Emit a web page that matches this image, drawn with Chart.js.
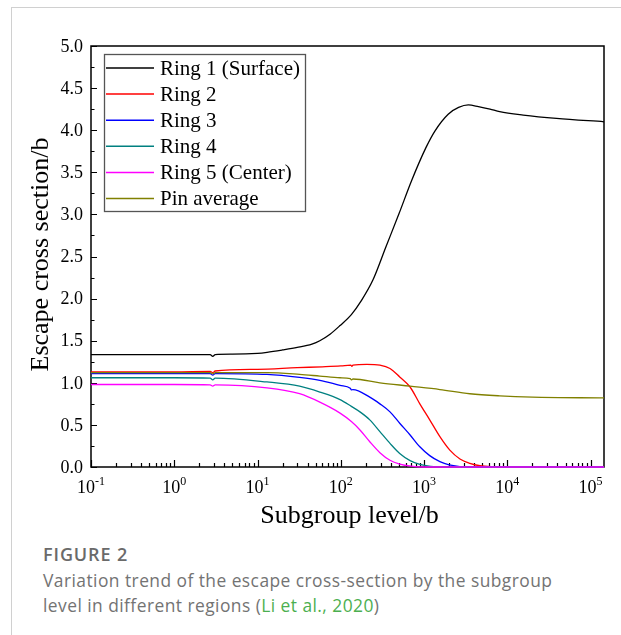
<!DOCTYPE html>
<html>
<head>
<meta charset="utf-8">
<script src="https://cdn.jsdelivr.net/npm/chart.js@4.4.1/dist/chart.umd.min.js"></script>
<style>
  html, body { margin: 0; padding: 0; background: #fff; }
  #pagina { position: relative; width: 621px; height: 635px; overflow: hidden; }
  #marco { position: absolute; left: 11px; top: 7px; right: 0; bottom: 0;
           border-top: 1px solid #d0d0d0; border-left: 1px solid #d0d0d0; }
  #lienzo { position: absolute; left: 0; top: 0; }
  #pie { position: absolute; left: 43px; top: 542px; width: 575px; white-space: nowrap;
         font-family: "Open Sans", "Lato", sans-serif; color: #737373; }
  #pie .num { font-weight: 600; font-size: 18px; color: #6a6a6a; letter-spacing: 0.9px; }
  #pie .txt { font-size: 17.4px; line-height: 25px; margin-top: 2px; font-weight: 400; letter-spacing: 0.45px; }
  #pie .ref { color: #4caf50; }
</style>
</head>
<body>
<div id="pagina">
  <div id="marco"></div>
  <canvas id="lienzo" width="621" height="530"></canvas>
  <div id="pie">
    <div class="num">FIGURE 2</div>
    <div class="txt">Variation trend of the escape cross-section by the subgroup<br>level in different regions (<span class="ref">Li et al., 2020</span>)</div>
  </div>
</div>
<script>
// Series (subgroup level in b, escape cross section in b)
const ring1X = [0.1, 1, 2.7, 2.9, 3.1, 5, 10, 13, 20, 30, 45, 56, 75, 98, 134, 175, 243, 347, 501, 708, 1050, 1350, 1950, 2600, 3400, 4500, 6200, 8100, 15500, 39000, 145000];
const ring1Y = [1.335, 1.335, 1.335, 1.315, 1.335, 1.34, 1.35, 1.362, 1.39, 1.42, 1.46, 1.50, 1.58, 1.68, 1.81, 1.97, 2.22, 2.61, 3.01, 3.40, 3.79, 3.99, 4.19, 4.27, 4.30, 4.28, 4.25, 4.22, 4.18, 4.14, 4.10];

const ring2X = [0.1, 1, 2.7, 2.9, 3.1, 10, 30, 60, 100, 132, 136, 140, 205, 295, 390, 510, 680, 890, 1170, 1550, 2040, 2700, 3550, 4700, 6500, 10000, 145000];
const ring2Y = [1.13, 1.13, 1.135, 1.12, 1.14, 1.16, 1.18, 1.19, 1.20, 1.21, 1.195, 1.21, 1.22, 1.21, 1.17, 1.07, 0.95, 0.75, 0.56, 0.36, 0.20, 0.095, 0.044, 0.015, 0.003, 0, 0];

const ring3X = [0.1, 1, 2.7, 2.9, 3.1, 13, 32, 56, 98, 130, 134, 140, 223, 295, 390, 510, 680, 890, 1170, 1550, 2000, 2700, 3500, 145000];
const ring3Y = [1.11, 1.11, 1.11, 1.09, 1.11, 1.10, 1.065, 1.03, 0.97, 0.935, 0.915, 0.92, 0.83, 0.75, 0.655, 0.52, 0.38, 0.24, 0.135, 0.063, 0.024, 0.005, 0, 0];

const ring4X = [0.1, 1, 2.7, 2.9, 3.1, 13, 32, 56, 98, 134, 170, 223, 295, 390, 510, 680, 890, 1200, 1700, 145000];
const ring4Y = [1.06, 1.06, 1.055, 1.035, 1.055, 1.01, 0.96, 0.89, 0.80, 0.72, 0.655, 0.56, 0.42, 0.28, 0.16, 0.075, 0.03, 0.008, 0, 0];

const ring5X = [0.1, 1, 2.7, 2.9, 3.1, 13, 32, 56, 98, 134, 170, 223, 295, 390, 510, 700, 1000, 145000];
const ring5Y = [0.98, 0.98, 0.975, 0.96, 0.975, 0.94, 0.87, 0.77, 0.64, 0.54, 0.44, 0.30, 0.17, 0.08, 0.035, 0.01, 0, 0];

const pinX = [0.1, 1, 2.7, 2.9, 3.1, 13, 32, 56, 98, 130, 134, 140, 295, 680, 1550, 3550, 8100, 20000, 145000];
const pinY = [1.12, 1.12, 1.12, 1.105, 1.12, 1.12, 1.10, 1.08, 1.06, 1.05, 1.035, 1.045, 1.00, 0.96, 0.92, 0.87, 0.845, 0.83, 0.82];

const nombres = ["Ring 1 (Surface)", "Ring 2", "Ring 3", "Ring 4", "Ring 5 (Center)", "Pin average"];
const colores = ["#000000", "#ff0000", "#0000ff", "#008080", "#ff00ff", "#808000"];

const ejeYMarcas = [0, 0.5, 1, 1.5, 2, 2.5, 3, 3.5, 4, 4.5, 5];
const ejeXDecadas = [-1, 0, 1, 2, 3, 4, 5];

const FUENTE = '"Liberation Serif", "Times New Roman", serif';

function puntos(xs, ys) {
    return xs.map((x, i) => ({ x: x, y: ys[i] }));
}

const series = [
    puntos(ring1X, ring1Y), puntos(ring2X, ring2Y), puntos(ring3X, ring3Y),
    puntos(ring4X, ring4Y), puntos(ring5X, ring5Y), puntos(pinX, pinY)
];

// Ejes, marcas hacia dentro y rótulos
const pluginEjes = {
    id: 'ejes',
    beforeDatasetsDraw(chart) {
        const ctx = chart.ctx, a = chart.chartArea;
        const sx = chart.scales.x, sy = chart.scales.y;
        ctx.save();
        ctx.strokeStyle = '#000';
        ctx.lineWidth = 1.5;
        ctx.strokeRect(a.left, a.top, a.right - a.left, a.bottom - a.top);

        ctx.lineWidth = 1.2;
        ctx.beginPath();
        // eje Y: mayores cada 0.5, menores cada 0.25
        for (let v = 0; v <= 5.0001; v += 0.25) {
            const y = Math.round(sy.getPixelForValue(v)) + 0.5;
            const mayor = Math.abs(v * 2 - Math.round(v * 2)) < 1e-6;
            ctx.moveTo(a.left, y);
            ctx.lineTo(a.left + (mayor ? 6 : 3.5), y);
        }
        // eje X logarítmico
        ejeXDecadas.forEach(d => {
            for (let k = 1; k <= 9; k++) {
                const v = k * Math.pow(10, d);
                if (v > sx.max) break;
                const x = Math.round(sx.getPixelForValue(v)) + 0.5;
                ctx.moveTo(x, a.bottom);
                ctx.lineTo(x, a.bottom - (k === 1 ? 7 : 4));
            }
        });
        ctx.stroke();
        ctx.restore();
    },
    afterDraw(chart) {
        const ctx = chart.ctx, a = chart.chartArea;
        const sx = chart.scales.x, sy = chart.scales.y;
        ctx.save();
        ctx.fillStyle = '#000';

        ctx.font = '18px ' + FUENTE;
        ctx.textAlign = 'right';
        ctx.textBaseline = 'middle';
        ejeYMarcas.forEach(v => {
            ctx.fillText(v.toFixed(1), a.left - 8, sy.getPixelForValue(v) + 1);
        });

        ctx.textBaseline = 'alphabetic';
        ctx.textAlign = 'left';
        ejeXDecadas.forEach(d => {
            const x = sx.getPixelForValue(Math.pow(10, d));
            ctx.font = '18px ' + FUENTE;
            const base = '10', wb = ctx.measureText(base).width;
            ctx.font = '12px ' + FUENTE;
            const exp = d < 0 ? '-' + (-d) : String(d), we = ctx.measureText(exp).width;
            const x0 = x - (wb + we) / 2;
            ctx.font = '18px ' + FUENTE;
            ctx.fillText(base, x0, a.bottom + 26);
            ctx.font = '12px ' + FUENTE;
            ctx.fillText(exp, x0 + wb, a.bottom + 18);
        });

        ctx.font = '26px ' + FUENTE;
        ctx.textAlign = 'center';
        ctx.fillText('Subgroup level/b', (a.left + a.right) / 2 + 2, a.bottom + 56);

        ctx.translate(48, (a.top + a.bottom) / 2 - 2);
        ctx.rotate(-Math.PI / 2);
        ctx.textBaseline = 'alphabetic';
        ctx.fillText('Escape cross section/b', 0, 0);
        ctx.restore();

        // leyenda con marco
        ctx.save();
        const lx = 104, ly = 54, lw = 201, lh = 157;
        ctx.strokeStyle = '#555';
        ctx.lineWidth = 1.3;
        ctx.strokeRect(lx + 0.5, ly + 0.5, lw, lh);
        ctx.font = '21px ' + FUENTE;
        ctx.textAlign = 'left';
        ctx.textBaseline = 'middle';
        chart.data.datasets.forEach((ds, i) => {
            const y = 68 + i * 26.1;
            ctx.strokeStyle = ds.borderColor;
            ctx.lineWidth = 1.5;
            ctx.beginPath();
            ctx.moveTo(106, y);
            ctx.lineTo(154, y);
            ctx.stroke();
            ctx.fillStyle = '#000';
            ctx.fillText(ds.label, 160, y + 1);
        });
        ctx.restore();
    }
};

new Chart(document.getElementById('lienzo'), {
    type: 'line',
    data: {
        datasets: series.map((d, i) => ({
            label: nombres[i],
            data: d,
            borderColor: colores[i],
            borderWidth: 1.3,
            pointRadius: 0,
            cubicInterpolationMode: 'monotone',
            order: 5 - i,
            clip: 3
        }))
    },
    options: {
        responsive: false,
        animation: false,
        layout: { padding: { left: 91, top: 46, right: 17, bottom: 63 } },
        plugins: { legend: { display: false }, tooltip: { enabled: false } },
        scales: {
            x: { type: 'logarithmic', min: 0.1, max: 145000, display: false },
            y: { type: 'linear', min: 0, max: 5, display: false }
        }
    },
    plugins: [pluginEjes]
});
</script>
</body>
</html>
